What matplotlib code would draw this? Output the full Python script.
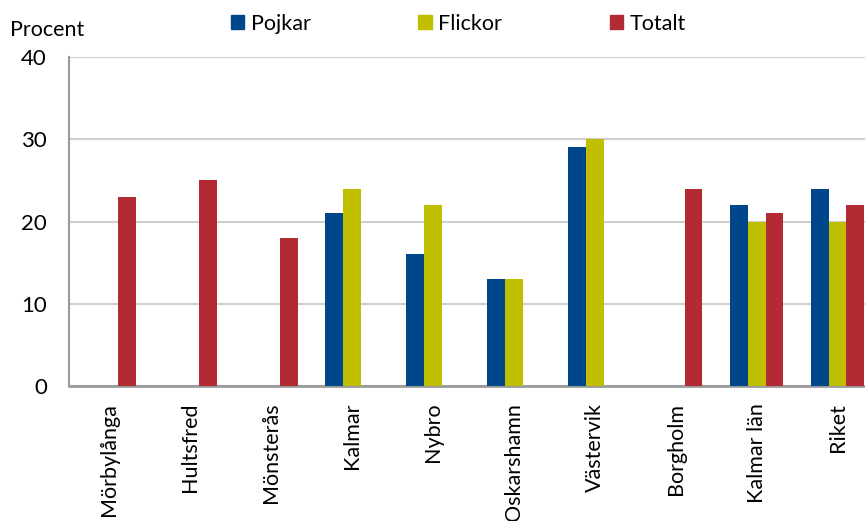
import numpy as np
import matplotlib.pyplot as plt
from matplotlib.patches import Patch

plt.rcParams['font.family'] = ['Lato', 'DejaVu Sans']

kommuner = ['Mörbylånga', 'Hultsfred', 'Mönsterås', 'Kalmar', 'Nybro',
            'Oskarshamn', 'Västervik', 'Borgholm', 'Kalmar län', 'Riket']
pojkar = [np.nan, np.nan, np.nan, 21, 16, 13, 29, np.nan, 22, 24]
flickor = [np.nan, np.nan, np.nan, 24, 22, 13, 30, np.nan, 20, 20]
totalt = [23, 25, 18, np.nan, np.nan, np.nan, np.nan, 24, 21, 22]

c_p = '#00468B'
c_f = '#BFBF00'
c_t = '#B22A32'

fig = plt.figure(figsize=(8.65, 5.21), dpi=100)
ax = fig.add_axes([69/865, 135/521, 809/865, 329/521])

x = np.arange(len(kommuner))
w = 0.22
ax.bar(x - w, pojkar, w, color=c_p, zorder=3)
ax.bar(x, flickor, w, color=c_f, zorder=3)
ax.bar(x + w, totalt, w, color=c_t, zorder=3)

ax.set_xlim(-0.5, len(kommuner) - 0.5)
ax.set_ylim(0, 40)
ax.set_yticks([0, 10, 20, 30, 40])
ax.yaxis.grid(True, color='#CFCFCF', linewidth=1.5, zorder=0)
ax.set_axisbelow(True)

ax.set_xticks(x)
ax.set_xticklabels(kommuner, rotation=90, fontsize=15.5)
ax.tick_params(axis='x', length=0, pad=12)
ax.tick_params(axis='y', length=0, pad=16, labelsize=16)

for s in ['top', 'right']:
    ax.spines[s].set_visible(False)
ax.spines['left'].set_color('#9A9A9A')
ax.spines['left'].set_linewidth(1.5)
ax.spines['bottom'].set_color('#9A9A9A')
ax.spines['bottom'].set_linewidth(2)

fig.text(10/865, 1 - 30/521, 'Procent', fontsize=15.5, va='center')

handles = [Patch(color=c_p), Patch(color=c_f), Patch(color=c_t)]
fig.legend(handles, ['Pojkar', 'Flickor', 'Totalt'], ncol=3, frameon=False,
           loc='center left', bbox_to_anchor=(231/865, 1 - 24/521),
           fontsize=15.5, handlelength=0.62, handleheight=0.62,
           handletextpad=0.3, columnspacing=5.0, borderpad=0, borderaxespad=0)

fig.savefig('out.png', dpi=100)
